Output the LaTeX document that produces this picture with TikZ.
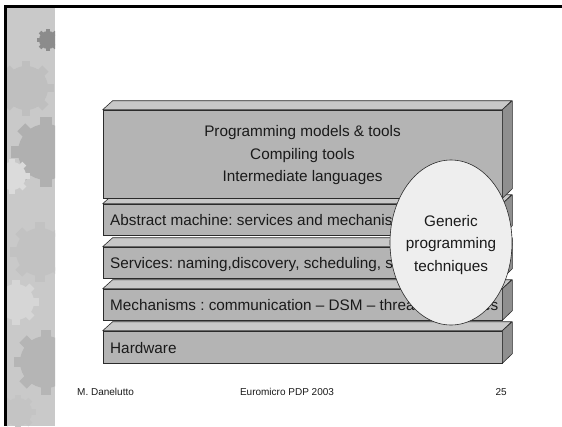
\documentclass[tikz,border=0pt]{standalone}
\usepackage{fontspec}
\setmainfont{Liberation Sans}
\usetikzlibrary{shapes.geometric}

\definecolor{edge}{HTML}{2B2B2B}
\definecolor{frontgrey}{HTML}{B4B4B4}
\definecolor{topgrey}{HTML}{C8C8C8}
\definecolor{sidegrey}{HTML}{8F8F8F}
\definecolor{ovalgrey}{HTML}{EEEEEE}
\definecolor{ink}{HTML}{1A1A1A}
\definecolor{stripbase}{HTML}{C9C9C9}

\newlength\mechhead
\newlength\mechtail
\newlength\mechgap

% one slab of the layer stack: name, centre y, front height
\newcommand\layerslab[3]{%
  \node[front, minimum height=#3pt] (#1) at (302.5,#2) {};
  \draw[topface] (#1.north west) -- ++(10,-9) -- ++(399,0) -- (#1.north east) -- cycle;
  \draw[sideface] (#1.north east) -- ++(10,-9) -- ++(0,#3) -- (#1.south east) -- cycle;
}

% a soft cog in the side strip: x, y, radius, colour
\newcommand\cogwheel[4]{%
  \fill[#4] (#1,#2) circle (#3);
  \foreach \a in {0,45,...,315}
    \fill[#4, rotate around={\a:(#1,#2)}] (#1-0.2*#3,#2-1.25*#3) rectangle (#1+0.2*#3,#2-0.9*#3);
}

\begin{document}
\frenchspacing
\begin{tikzpicture}[x=1pt,y=-1pt,
  front/.style={draw=edge, fill=frontgrey, line width=0.6pt, inner sep=0pt, minimum width=399pt},
  topface/.style={draw=edge, fill=topgrey, line width=0.6pt, line join=round},
  sideface/.style={draw=edge, fill=sidegrey, line width=0.6pt, line join=round},
  lbl/.style={font=\fontsize{15.3}{22.5}\selectfont, text=ink, inner sep=0pt, anchor=base west},
  foot/.style={font=\fontsize{10}{12}\selectfont, text=ink, inner sep=0pt, anchor=base}]

\useasboundingbox (0,0) rectangle (562,426);
\fill[white] (0,0) rectangle (562,426);

% decorative strip on the left
\begin{scope}
  \clip (7,8) rectangle (55,426);
  \fill[stripbase] (7,8) rectangle (55,426);
  \cogwheel{26}{88}{22}{black!25}
  \cogwheel{48}{40}{9}{black!45}
  \cogwheel{46}{152}{28}{black!31}
  \cogwheel{12}{176}{14}{black!14}
  \cogwheel{40}{252}{24}{black!24}
  \cogwheel{16}{302}{18}{black!16}
  \cogwheel{46}{362}{26}{black!29}
  \cogwheel{18}{412}{14}{black!23}
\end{scope}

% slide frame
\fill[black] (4,5) rectangle (562,8);
\fill[black] (4,5) rectangle (7,426);

% layer stack, drawn from the bottom up
\layerslab{hw}{347}{32}
\layerslab{mech}{304.5}{31}
\layerslab{serv}{262.5}{31}
\layerslab{absm}{219.5}{31}
\layerslab{prog}{154}{88}

\node[lbl] (hwtext) at (110,353.5) {Hardware};
% the mechanisms line is set to end just inside the slab (388pt wide)
\node[lbl] (mechtext) at (110,310)
  {\settowidth\mechhead{Mechanisms : communication – DSM – threa}%
   \settowidth\mechtail{es}%
   \setlength\mechgap{\dimexpr388pt-\mechhead-\mechtail\relax}%
   Mechanisms : communication – DSM – threa\resizebox{\mechgap}{\height}{ds – process}es};
\node[lbl] (servtext) at (110,268) {Services: naming,discovery, scheduling, security};
\node[lbl] (absmtext) at (110,225) {Abstract machine: services and mechanisms};
\node[font=\fontsize{15.3}{22.5}\selectfont, text=ink, align=center, inner sep=0pt] (progtext) at (302.5,155.5)
  {Programming models \& tools\\Compiling tools\\Intermediate languages};

% overlay oval
\node[ellipse, draw=edge, fill=ovalgrey, line width=0.6pt, minimum width=122pt, minimum height=165pt,
      inner sep=0pt] (generic) at (451,242.5) {};
\node[align=center, text=ink, inner sep=0pt, font=\fontsize{15.3}{22.5}\selectfont] (generictext)
  at (451,245) {Generic\\programming\\techniques};

% footer
\node[foot, anchor=base west] (author) at (77,395) {M. Danelutto};
\node[foot] (conf) at (287,395) {Euromicro PDP 2003};
\node[foot, anchor=base east] (page) at (507,395) {25};
\end{tikzpicture}
\end{document}
